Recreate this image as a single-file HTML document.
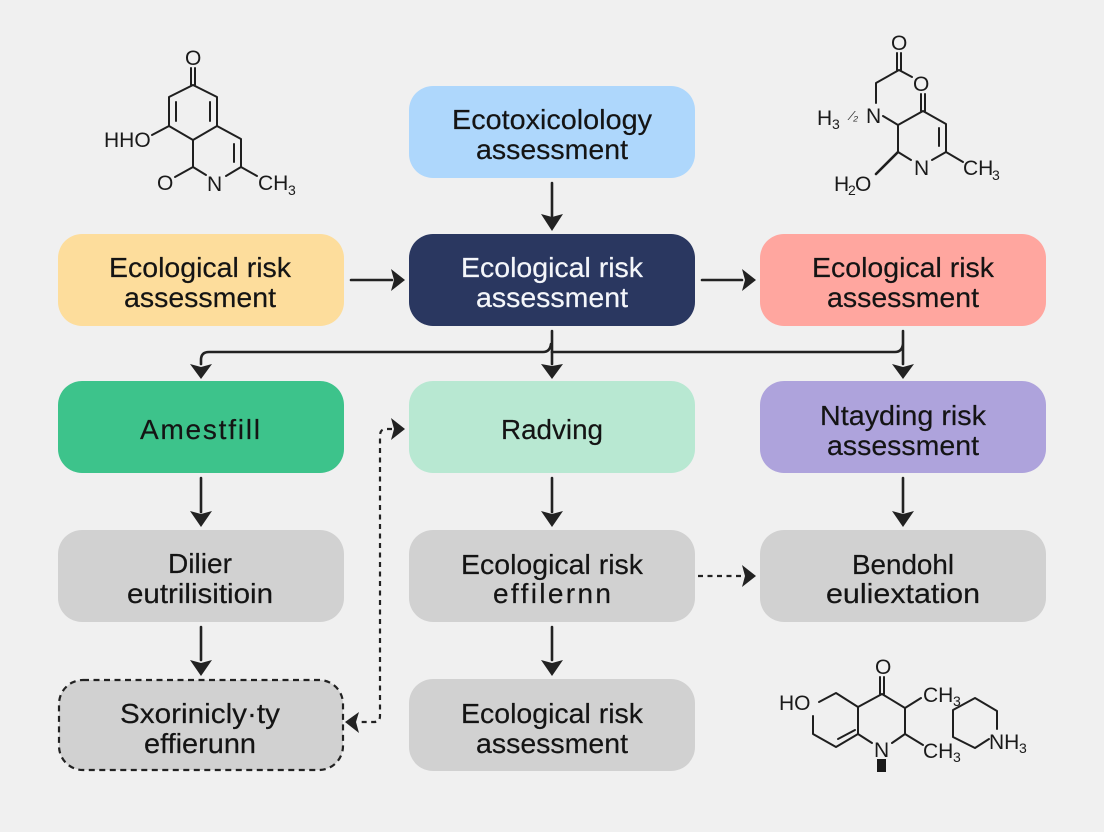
<!DOCTYPE html>
<html><head><meta charset="utf-8"><style>
html,body{margin:0;padding:0;background:#f0f0f0;width:1104px;height:832px;overflow:hidden}
svg{display:block}
text{font-family:"Liberation Sans",sans-serif}
.t{font-size:28px;text-anchor:middle;fill:#141414;stroke:#141414;stroke-width:.2}
.w{fill:#f4f6fa;stroke:#f4f6fa}
.m{font-size:21px;fill:#1a1a1a}
.s{font-size:14px;fill:#1a1a1a}
.b{stroke:#1f1f1f;stroke-width:2;fill:none;stroke-linecap:round;stroke-linejoin:round}
.c{stroke:#222;stroke-width:2.6;fill:none;stroke-linecap:round}
.d{stroke:#222;stroke-width:2.2;fill:none;stroke-dasharray:5 4.5}
.a{fill:#222}
</style></head><body>
<svg width="1104" height="832" viewBox="0 0 1104 832" xmlns="http://www.w3.org/2000/svg">
<rect width="1104" height="832" fill="#f0f0f0"/>
<!-- boxes -->
<rect x="409" y="86" width="286" height="92" rx="24" fill="#aed7fc"/>
<rect x="58" y="234" width="286" height="92" rx="24" fill="#fddd9c"/>
<rect x="409" y="234" width="286" height="92" rx="24" fill="#2a3760"/>
<rect x="760" y="234" width="286" height="92" rx="24" fill="#ffa69f"/>
<rect x="58" y="381" width="286" height="92" rx="24" fill="#3dc38b"/>
<rect x="409" y="381" width="286" height="92" rx="24" fill="#b8e8d2"/>
<rect x="760" y="381" width="286" height="92" rx="24" fill="#aea3dc"/>
<rect x="58" y="530" width="286" height="92" rx="24" fill="#d1d1d1"/>
<rect x="409" y="530" width="286" height="92" rx="24" fill="#d1d1d1"/>
<rect x="760" y="530" width="286" height="92" rx="24" fill="#d1d1d1"/>
<rect x="59" y="680" width="284" height="90" rx="24" fill="#d1d1d1" stroke="#222" stroke-width="2.2" stroke-dasharray="6 4.5"/>
<rect x="409" y="679" width="286" height="92" rx="24" fill="#d1d1d1"/>
<!-- labels -->
<g transform="translate(0,0.8)">
<text class="t" x="552" y="128" textLength="200" lengthAdjust="spacingAndGlyphs">Ecotoxicolology</text>
<text class="t" x="552" y="158" textLength="152" lengthAdjust="spacingAndGlyphs">assessment</text>
<text class="t" x="200" y="276" textLength="182" lengthAdjust="spacingAndGlyphs">Ecological risk</text>
<text class="t" x="200" y="306" textLength="152" lengthAdjust="spacingAndGlyphs">assessment</text>
<text class="t w" x="552" y="276" textLength="182" lengthAdjust="spacingAndGlyphs">Ecological risk</text>
<text class="t w" x="552" y="306" textLength="152" lengthAdjust="spacingAndGlyphs">assessment</text>
<text class="t" x="903" y="276" textLength="182" lengthAdjust="spacingAndGlyphs">Ecological risk</text>
<text class="t" x="903" y="306" textLength="152" lengthAdjust="spacingAndGlyphs">assessment</text>
<text class="t" x="200" y="438" textLength="120" lengthAdjust="spacing">Amestfill</text>
<text class="t" x="552" y="438" textLength="102" lengthAdjust="spacingAndGlyphs">Radving</text>
<text class="t" x="903" y="424" textLength="166" lengthAdjust="spacingAndGlyphs">Ntayding risk</text>
<text class="t" x="903" y="454" textLength="152" lengthAdjust="spacingAndGlyphs">assessment</text>
<text class="t" x="200" y="572" textLength="64" lengthAdjust="spacingAndGlyphs">Dilier</text>
<text class="t" x="200" y="602" textLength="146" lengthAdjust="spacingAndGlyphs">eutrilisitioin</text>
<text class="t" x="552" y="573" textLength="182" lengthAdjust="spacingAndGlyphs">Ecological risk</text>
<text class="t" x="552" y="602" textLength="118" lengthAdjust="spacing">effilernn</text>
<text class="t" x="903" y="573" textLength="102" lengthAdjust="spacingAndGlyphs">Bendohl</text>
<text class="t" x="903" y="602" textLength="154" lengthAdjust="spacingAndGlyphs">euliextation</text>
<text class="t" x="200" y="722" textLength="160" lengthAdjust="spacingAndGlyphs">Sxorinicly·ty</text>
<text class="t" x="200" y="752" textLength="112" lengthAdjust="spacingAndGlyphs">effierunn</text>
<text class="t" x="552" y="722" textLength="182" lengthAdjust="spacingAndGlyphs">Ecological risk</text>
<text class="t" x="552" y="752" textLength="152" lengthAdjust="spacingAndGlyphs">assessment</text>
</g>
<!-- connectors -->
<path class="c" d="M552 183V216"/><path class="a" d="M541 214L552 217L563 214L552 231Z"/>
<path class="c" d="M351 280H392"/><path class="a" d="M391 269L394 280L391 291L405 280Z"/>
<path class="c" d="M702 280H742"/><path class="a" d="M742 269L745 280L742 291L756 280Z"/>
<path class="c" d="M552 331V364"/><path class="a" d="M541 364L552 366L563 364L552 379Z"/>
<path class="c" d="M201 364V360Q201 352 209 352H543Q550 352 551 344"/>
<path class="a" d="M190 364L201 367L212 364L201 379Z"/>
<path class="c" d="M552 352H895Q902 352 903 344V331M903 344V364"/>
<path class="a" d="M892 364L903 367L914 364L903 379Z"/>
<path class="c" d="M201 478V512"/><path class="a" d="M190 511L201 514L212 511L201 527Z"/>
<path class="c" d="M552 478V512"/><path class="a" d="M541 511L552 514L563 511L552 527Z"/>
<path class="c" d="M903 478V512"/><path class="a" d="M892 511L903 514L914 511L903 527Z"/>
<path class="c" d="M201 627V660"/><path class="a" d="M190 660L201 663L212 660L201 676Z"/>
<path class="c" d="M552 627V660"/><path class="a" d="M541 660L552 663L563 660L552 676Z"/>
<path class="d" d="M698 576H742"/><path class="a" d="M742 565L745 576L742 587L756 576Z"/>
<path class="d" d="M392 429H386Q380 429 380 436V716Q380 722 374 722H358"/>
<path class="a" d="M391 418L394 429L391 440L405 429Z"/>
<path class="a" d="M359 712L356 722L359 733L345 722Z"/>
<!-- molecule 1 -->
<g class="b">
<path d="M191 68V85M195 68V85"/>
<path d="M193 85L169 97V126L193 140L217 126V97L193 85"/>
<path d="M176 102V121M210 102V121"/>
<path d="M217 126L241 139V167L226 176M234 144V162"/>
<path d="M193 140V167L206 175M193 167L175 177"/>
<path d="M241 167L257 176M169 126L152 135"/>
</g>
<text class="m" x="104" y="147">HHO</text>
<text class="m" x="157" y="190">O</text>
<text class="m" x="207" y="191">N</text>
<text class="m" x="258" y="190">CH</text><text class="s" x="288" y="195">3</text>
<text class="m" x="185" y="65">O</text>
<!-- molecule 2 -->
<g class="b">
<path d="M897 53V70M901 53V70"/>
<path d="M899 70L876 83V103M899 70L912 77"/>
<path d="M883 116L898 125L923 111L946 124V152L932 160M898 125V152L911 160"/>
<path d="M921 94V111M925 94V111M939 128V146"/>
<path d="M946 152L963 162"/>
<path d="M898 152L876 174" stroke-width="2.6"/>
</g>
<text class="m" x="891" y="50">O</text>
<text class="m" x="913" y="91">O</text>
<text class="m" x="866" y="123">N</text>
<text x="851" y="120" style="font-size:13px;font-style:italic;fill:#333">⁄₂</text>
<text class="m" x="817" y="125">H</text><text class="s" x="832" y="129">3</text>
<text class="m" x="914" y="175">N</text>
<text class="m" x="963" y="175">CH</text><text class="s" x="992" y="180">3</text>
<text class="m" x="834" y="191">H</text><text class="s" x="848" y="195">2</text><text class="m" x="855" y="191">O</text>
<!-- molecule 3 -->
<g class="b">
<path d="M880 677V694M884 677V694"/>
<path d="M882 694L905 708V734L892 743M882 694L858 707V734L872 743M905 708L921 698M905 734L923 745"/>
<path d="M858 707L836 693L819 702M813 716V734L836 747L858 734M838 739L855 730"/>
<path d="M953 737V710L975 698L997 711V729M953 737L975 748L989 739"/>
</g>
<rect x="877" y="759" width="9" height="13" fill="#1a1a1a"/>
<text class="m" x="875" y="674">O</text>
<text class="m" x="779" y="710">HO</text>
<text class="m" x="874" y="757">N</text>
<text class="m" x="923" y="702">CH</text><text class="s" x="953" y="706">3</text>
<text class="m" x="923" y="758">CH</text><text class="s" x="953" y="762">3</text>
<text class="m" x="989" y="749">NH</text><text class="s" x="1019" y="753">3</text>
</svg>
</body></html>
